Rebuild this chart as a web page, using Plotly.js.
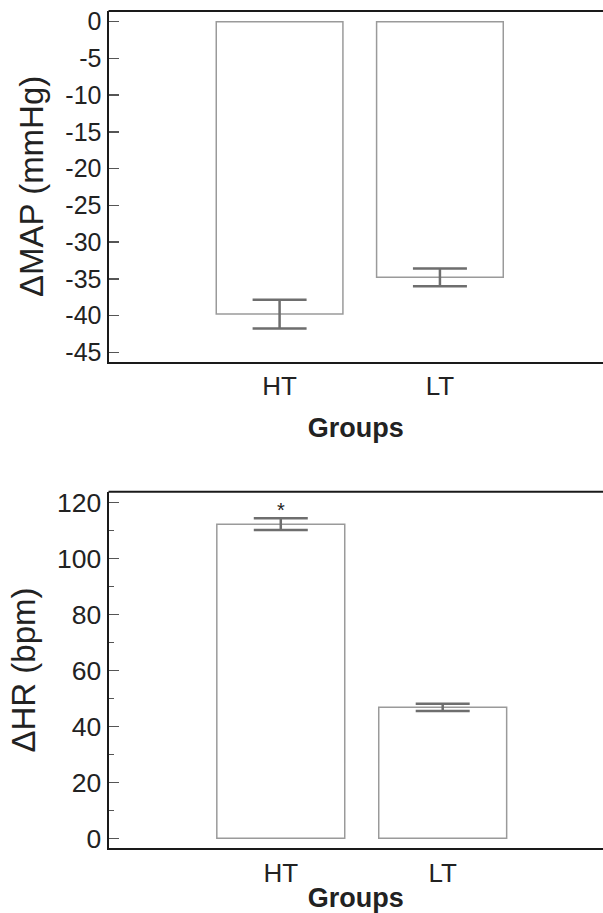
<!DOCTYPE html>
<html>
<head>
<meta charset="utf-8">
<script src="https://cdn.plot.ly/plotly-3.0.1.min.js"></script>
<style>html,body{margin:0;padding:0;background:#fff;}#chart{width:603px;height:913px;}</style>
</head>
<body>
<div id="chart"></div>
<script>
// ---- data ----
const groups = ['HT', 'LT'];
const mapValues = [-39.8, -34.8];
const mapErrors = [1.95, 1.2];
const hrValues = [112.2, 46.8];
const hrErrors = [2.1, 1.3];
const hrSignificance = ['*', ''];
const mapTicks = [0, -5, -10, -15, -20, -25, -30, -35, -40, -45];
const hrTicks = [0, 20, 40, 60, 80, 100, 120];

const FONT = 'Liberation Sans, Arial, sans-serif';
const barStyle = {color: '#ffffff', line: {color: '#9a9a9a', width: 1.5}};
const errStyle = (arr) => ({type: 'data', array: arr, visible: true, color: '#6e6e6e', thickness: 2.5, width: 27});

const traces = [
  {type: 'bar', x: groups, y: mapValues, width: 0.79, marker: barStyle, error_y: errStyle(mapErrors), xaxis: 'x', yaxis: 'y', showlegend: false, hoverinfo: 'none'},
  {type: 'bar', x: groups, y: hrValues, width: 0.79, marker: barStyle, error_y: errStyle(hrErrors), xaxis: 'x2', yaxis: 'y2', showlegend: false, hoverinfo: 'none'}
];

const annotations = groups.map((g, i) => ({
  xref: 'x2', yref: 'y2', x: g, y: hrValues[i] + hrErrors[i], text: hrSignificance[i],
  showarrow: false, yanchor: 'bottom', yshift: -5, font: {family: FONT, size: 20, color: '#222'}
})).filter(a => a.text);

const yCommon = {
  showline: true, linecolor: '#1a1a1a', linewidth: 2, ticks: 'inside', ticklen: 10, tickwidth: 1.5, tickcolor: '#555',
  showgrid: false, zeroline: false,
  title: {font: {family: FONT, size: 33, color: '#222'}, standoff: 12}
};
const xCommon = {
  type: 'category', showline: true, linecolor: '#1a1a1a', linewidth: 2, ticks: '', showgrid: false, zeroline: false,
  tickfont: {family: FONT, size: 26, color: '#222'},
  title: {text: '<b>Groups</b>', font: {family: FONT, size: 27, color: '#222'}, standoff: 18}
};

const x0 = 108.5 / 603;
const layout = {
  width: 603, height: 913, margin: {l: 0, r: 0, t: 0, b: 0},
  paper_bgcolor: '#fff', plot_bgcolor: '#fff', bargap: 0.2,
  xaxis: Object.assign({}, xCommon, {domain: [x0, 1], anchor: 'y', range: [-1.067, 2.017]}),
  yaxis: Object.assign({}, yCommon, {domain: [1 - 361.7 / 913, 1 - 11 / 913], anchor: 'x', range: [-46.28, 1.46],
    tickmode: 'array', tickvals: mapTicks, ticktext: mapTicks.map(String),
    tickfont: {family: FONT, size: 25, color: '#222'},
    title: Object.assign({}, yCommon.title, {text: 'ΔMAP (mmHg)'})}),
  xaxis2: Object.assign({}, xCommon, {domain: [x0, 1], anchor: 'y2', range: [-1.064, 1.99],
    title: Object.assign({}, xCommon.title, {standoff: 21})}),
  yaxis2: Object.assign({}, yCommon, {domain: [1 - 848.3 / 913, 1 - 491.7 / 913], anchor: 'x2', range: [-3.57, 123.8],
    tickmode: 'array', tickvals: hrTicks, ticktext: hrTicks.map(String),
    tickfont: {family: FONT, size: 26.5, color: '#222'},
    minor: {dtick: 10, ticks: 'inside', ticklen: 5, tickwidth: 1.5, tickcolor: '#555', showgrid: false},
    title: Object.assign({}, yCommon.title, {text: 'ΔHR (bpm)', standoff: 11})}),
  annotations: annotations,
  shapes: [
    {type: 'line', xref: 'paper', yref: 'paper', x0: x0, x1: 1.01, y0: 1 - 11 / 913, y1: 1 - 11 / 913, line: {color: '#1a1a1a', width: 2}},
    {type: 'line', xref: 'paper', yref: 'paper', x0: x0, x1: 1.01, y0: 1 - 491.7 / 913, y1: 1 - 491.7 / 913, line: {color: '#1a1a1a', width: 2}}
  ]
};

Plotly.newPlot('chart', traces, layout, {staticPlot: true, displayModeBar: false});
</script>
</body>
</html>
